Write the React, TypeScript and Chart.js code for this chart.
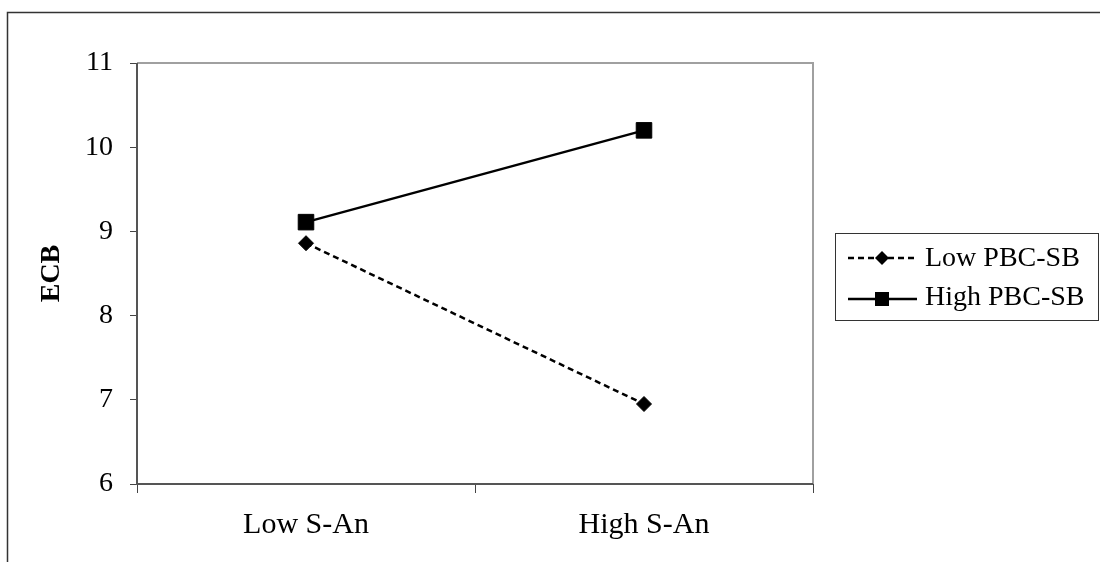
import React, { useEffect, useRef } from "react";
import { Chart, registerables } from "chart.js";

Chart.register(...registerables);

const categories = ["Low S-An", "High S-An"];
const lowPBC = [8.86, 6.95];
const highPBC = [9.11, 10.2];
const seriesNames = ["Low PBC-SB", "High PBC-SB"];
const yMin = 6;
const yMax = 11;

const FONT = '"Liberation Serif", "Times New Roman", serif';

const decorPlugin = {
  id: "decor",
  afterDraw(chart: any) {
    const ctx = chart.ctx;
    const a = chart.chartArea;
    ctx.save();
    // outer frame
    ctx.strokeStyle = "#333";
    ctx.lineWidth = 1.5;
    ctx.beginPath();
    ctx.moveTo(7.5, 562);
    ctx.lineTo(7.5, 12.5);
    ctx.lineTo(1100, 12.5);
    ctx.stroke();
    // plot area border
    ctx.lineWidth = 2;
    ctx.strokeStyle = "#a0a0a0";
    ctx.beginPath();
    ctx.moveTo(a.left, a.top);
    ctx.lineTo(a.right, a.top);
    ctx.lineTo(a.right, a.bottom);
    ctx.stroke();
    ctx.strokeStyle = "#555";
    ctx.beginPath();
    ctx.moveTo(a.left, a.top);
    ctx.lineTo(a.left, a.bottom);
    ctx.lineTo(a.right, a.bottom);
    ctx.stroke();
    // legend
    ctx.strokeStyle = "#333";
    ctx.lineWidth = 1;
    ctx.strokeRect(835.5, 233.5, 263, 87);
    const rows = [258, 299];
    const textRows = [259, 298];
    chart.data.datasets.forEach((ds: any, i: number) => {
      const y = rows[i];
      ctx.strokeStyle = "#000";
      ctx.lineWidth = 2.5;
      ctx.setLineDash(ds.borderDash || []);
      ctx.beginPath();
      ctx.moveTo(848, y);
      ctx.lineTo(917, y);
      ctx.stroke();
      ctx.setLineDash([]);
      ctx.fillStyle = "#000";
      ctx.beginPath();
      if (ds.pointStyle === "rectRot") {
        const r = 7;
        ctx.moveTo(882 - r, y);
        ctx.lineTo(882, y - r);
        ctx.lineTo(882 + r, y);
        ctx.lineTo(882, y + r);
        ctx.closePath();
      } else {
        ctx.rect(882 - 7, y - 7, 14, 14);
      }
      ctx.fill();
      ctx.font = `28px ${FONT}`;
      ctx.textBaseline = "middle";
      ctx.textAlign = "left";
      ctx.fillText(ds.label, 925, textRows[i]);
    });
    ctx.restore();
  },
};

export default function App() {
  const ref = useRef<HTMLCanvasElement | null>(null);
  useEffect(() => {
    if (!ref.current) return;
    const chart = new Chart(ref.current, {
      type: "line",
      data: {
        labels: categories,
        datasets: [
          {
            label: seriesNames[0],
            data: lowPBC,
            borderColor: "#000",
            backgroundColor: "#000",
            borderWidth: 2.5,
            borderDash: [6, 4],
            pointStyle: "rectRot",
            pointRadius: 7.5,
            pointBorderWidth: 1,
            pointBackgroundColor: "#000",
            pointBorderColor: "#000",
          },
          {
            label: seriesNames[1],
            data: highPBC,
            borderColor: "#000",
            backgroundColor: "#000",
            borderWidth: 2.5,
            pointStyle: "rect",
            pointRadius: 11,
            pointBorderWidth: 1,
            pointBackgroundColor: "#000",
            pointBorderColor: "#000",
          },
        ],
      },
      options: {
        responsive: false,
        animation: false,
        layout: { padding: { left: 0, top: 63, right: 287, bottom: 0 } },
        plugins: { legend: { display: false }, tooltip: { enabled: false } },
        scales: {
          x: {
            type: "category",
            offset: true,
            grid: {
              offset: true,
              drawOnChartArea: false,
              drawTicks: true,
              tickLength: 9,
              color: "#444",
              lineWidth: 1,
            },
            border: { display: false },
            ticks: { color: "#000", font: { family: FONT, size: 30 }, padding: 14 },
            afterFit(scale: any) {
              scale.height = 562 - 484;
            },
          },
          y: {
            min: yMin,
            max: yMax,
            grid: {
              drawOnChartArea: false,
              drawTicks: true,
              tickLength: 7,
              color: "#444",
              lineWidth: 1,
            },
            border: { display: false },
            ticks: {
              stepSize: 1,
              color: "#000",
              font: { family: FONT, size: 28 },
              padding: 17,
            },
            title: {
              display: true,
              text: "ECB",
              color: "#000",
              font: { family: FONT, size: 28, weight: "bold" },
              padding: { top: 35, bottom: 0 },
            },
            afterFit(scale: any) {
              scale.width = 137;
            },
          },
        },
      },
      plugins: [decorPlugin],
    } as any);
    return () => chart.destroy();
  }, []);
  return (
    <div style={{ position: "absolute", left: 0, top: 0, width: 1100, height: 562, background: "#fff" }}>
      <canvas ref={ref} width={1100} height={562} />
    </div>
  );
}
